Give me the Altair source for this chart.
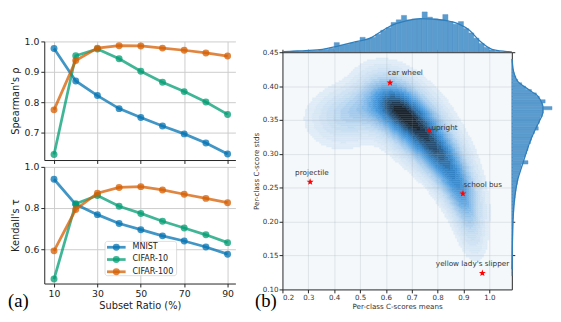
import altair as alt
import numpy as np
import pandas as pd

# ---------------- panel (a): rank correlation vs subset ratio ----------------
ratios = [10, 20, 30, 40, 50, 60, 70, 80, 90]
datasets = ["MNIST", "CIFAR-10", "CIFAR-100"]
colors = ["#0173b2", "#029e73", "#d55e00"]

spearman_mnist = [0.977, 0.870, 0.822, 0.779, 0.750, 0.722, 0.696, 0.666, 0.630]
spearman_cifar10 = [0.628, 0.953, 0.975, 0.943, 0.902, 0.866, 0.835, 0.801, 0.760]
spearman_cifar100 = [0.775, 0.937, 0.978, 0.986, 0.985, 0.978, 0.971, 0.962, 0.952]

kendall_mnist = [0.940, 0.818, 0.768, 0.725, 0.695, 0.665, 0.640, 0.611, 0.576]
kendall_cifar10 = [0.455, 0.821, 0.861, 0.809, 0.774, 0.736, 0.703, 0.670, 0.632]
kendall_cifar100 = [0.592, 0.793, 0.872, 0.900, 0.904, 0.888, 0.867, 0.847, 0.826]

# ---------------- panel (b): per-class C-score means vs stds ----------------
classes = ["car wheel", "upright", "projectile", "school bus", "yellow lady's slipper"]
class_mean = [0.616, 0.768, 0.307, 0.898, 0.973]
class_std = [0.405, 0.335, 0.2586, 0.2413, 0.124]
label_mean = [0.607, 0.776, 0.314, 0.900, 0.935]
label_std = [0.4186, 0.3376, 0.272, 0.2547, 0.1376]
label_align = ["left", "left", "center", "left", "center"]

# density surface: components along the ridge
kde_cx = [0.632, 0.716, 0.795, 0.867, 0.905, 0.928, 0.50, 0.424]
kde_cy = [0.373, 0.343, 0.305, 0.262, 0.226, 0.187, 0.365, 0.342]
kde_sx = [0.067, 0.067, 0.0617, 0.0512, 0.0387, 0.033, 0.0926, 0.068]
kde_sy = [0.0256, 0.0256, 0.0252, 0.0266, 0.025, 0.0256, 0.0217, 0.023]
kde_rho = [-0.28, -0.28, -0.40, -0.465, -0.405, -0.343, 0.2, 0.0]
kde_amp = [1.0, 0.95, 0.92, 0.70, 0.36, 0.15, 0.35, 0.07]

# top marginal: histogram of class means (bin centres, step 0.02) and its KDE
top_bin_center = [0.21, 0.23, 0.25, 0.27, 0.29, 0.31, 0.33, 0.35, 0.37, 0.39, 0.41,
                  0.43, 0.45, 0.47, 0.49, 0.51, 0.53, 0.55, 0.57, 0.59, 0.61, 0.63,
                  0.65, 0.67, 0.69, 0.71, 0.73, 0.75, 0.77, 0.79, 0.81, 0.83, 0.85,
                  0.87, 0.89, 0.91, 0.93, 0.95, 0.97, 0.99, 1.01, 1.03, 1.05]
top_bin_count = [0.5, 0.7, 1.0, 1.0, 1.2, 1.6, 2.0, 2.6, 3.3, 4.5, 11.0,
                 8.0, 9.0, 10.5, 12.0, 17.0, 15.0, 17.0, 20.5, 25.0, 28.0, 34.0,
                 37.0, 42.0, 37.0, 38.0, 38.0, 46.0, 40.0, 38.0, 37.0, 43.0, 35.0,
                 32.0, 35.0, 27.0, 22.0, 16.0, 10.0, 5.5, 2.5, 1.0, 0.3]
top_kde_x = [0.20, 0.228, 0.29, 0.355, 0.418, 0.481, 0.544, 0.594, 0.632, 0.683,
             0.733, 0.784, 0.834, 0.885, 0.923, 0.961, 1.01, 1.06, 1.087]
top_kde_h = [0.5, 1.0, 1.8, 3.3, 7.3, 11.7, 16.7, 26.0, 31.7, 36.0,
             38.3, 37.7, 36.0, 31.7, 25.0, 13.3, 3.3, 1.0, 0.5]

# right marginal: histogram of class stds (bin centres, step 0.005) and its KDE
right_bin_center = [round(0.1225 + 0.005 * i, 4) for i in range(64)]
right_bin_count = [0.2, 0.3, 0.3, 0.4, 0.4, 0.5, 0.5, 0.6, 0.6, 0.7, 0.8, 0.9, 1.0,
                   1.0, 1.1, 1.2, 1.3, 1.6, 1.8, 2.0, 2.2, 2.5, 3.0, 3.4, 3.9, 4.3,
                   4.9, 5.6, 6.3, 7.0, 8.0, 8.8, 9.5, 16.5, 12.0, 13.5, 15.0, 16.5,
                   17.0, 19.0, 20.0, 21.0, 23.0, 27.0, 26.0, 28.0, 29.0, 31.0, 32.0,
                   41.0, 31.0, 34.0, 28.0, 25.0, 20.0, 14.0, 10.0, 6.0, 4.0, 2.5,
                   1.5, 1.0, 0.6, 0.3]
right_kde_y = [0.13, 0.17, 0.201, 0.226, 0.255, 0.276, 0.288, 0.303, 0.317, 0.334,
               0.349, 0.361, 0.370, 0.377, 0.385, 0.391, 0.397, 0.403, 0.409,
               0.418, 0.428, 0.44]
right_kde_w = [0.2, 0.6, 1.2, 2.3, 5.0, 9.0, 11.7, 15.0, 18.3, 23.3,
               28.3, 31.7, 31.7, 30.0, 26.7, 21.0, 15.0, 9.0, 5.0,
               2.5, 1.0, 0.3]

FONT = "DejaVu Sans"
INK = "#222222"

# ======================= panel (a) =======================
def corr_panel(values, ytitle, ydomain, yticks, bottom):
    rows = []
    for name, vals in zip(datasets, values):
        for r, v in zip(ratios, vals):
            rows.append({"ratio": r, "value": v, "dataset": name})
    df = pd.DataFrame(rows)
    xkw = dict(values=[10, 30, 50, 70, 90], grid=True, gridColor="#cccccc",
               tickSize=3.5, labelFontSize=9.5, labelPadding=2, domainColor=INK,
               tickColor=INK, labelColor=INK)
    if bottom:
        xkw.update(labels=True, title="Subset Ratio (%)", titleFontSize=10,
                   titleFontWeight="normal", titlePadding=2, titleColor=INK)
    else:
        xkw.update(labels=False, title="")
    x = alt.X("ratio:Q", scale=alt.Scale(domain=[5.5, 93.6], nice=False, zero=False),
              axis=alt.Axis(**xkw))
    y = alt.Y("value:Q", scale=alt.Scale(domain=ydomain, nice=False, zero=False),
              axis=alt.Axis(values=yticks, format=".1f", title=ytitle, grid=True,
                            gridColor="#cccccc", tickSize=3.5, labelFontSize=9.5,
                            labelPadding=2, titleFontSize=10, titleFontWeight="normal",
                            titleColor=INK, domainColor=INK, tickColor=INK,
                            labelColor=INK))
    layers = []
    for name, col in zip(datasets, colors):
        b = alt.Chart(df).transform_filter(alt.datum.dataset == name).encode(x=x, y=y)
        layers.append(b.mark_line(color=col, strokeWidth=2.8, opacity=0.75))
        layers.append(b.mark_circle(color=col, size=50, opacity=0.75))
    return layers


top_a = alt.layer(*corr_panel([spearman_mnist, spearman_cifar10, spearman_cifar100],
                              "Spearman's ρ", [0.61, 1.0], [0.7, 0.8, 0.9, 1.0],
                              False)).properties(width=195, height=121)

bot_layers = corr_panel([kendall_mnist, kendall_cifar10, kendall_cifar100],
                        "Kendall's τ", [0.4333, 1.0], [0.6, 0.8, 1.0], True)
one = pd.DataFrame({"a": [0]})
bot_layers.append(alt.Chart(one).mark_rect(fill="white", stroke="#cfcfcf", strokeWidth=0.8,
                                           cornerRadius=2.5, opacity=0.85).encode(
    x=alt.value(62), x2=alt.value(135), y=alt.value(76), y2=alt.value(111)))
for i, (name, col) in enumerate(zip(datasets, colors)):
    yy = 82 + 12.5 * i
    d = pd.DataFrame({"name": [name]})
    bot_layers.append(alt.Chart(d).mark_rule(color=col, strokeWidth=2.8, opacity=0.75).encode(
        x=alt.value(64), x2=alt.value(83), y=alt.value(yy)))
    bot_layers.append(alt.Chart(d).mark_circle(color=col, size=50, opacity=0.75).encode(
        x=alt.value(73.5), y=alt.value(yy)))
    bot_layers.append(alt.Chart(d).mark_text(align="left", baseline="middle", fontSize=8.2,
                                             color=INK, font=FONT).encode(
        x=alt.value(90), y=alt.value(yy), text="name:N"))
bot_layers.append(alt.Chart(one).mark_text(align="left", baseline="alphabetic", fontSize=19,
                                           font="Liberation Serif", color="#000").encode(
    x=alt.value(-37), y=alt.value(143), text=alt.value("(a)")))
bot_a = alt.layer(*bot_layers).properties(width=195, height=119)

spacer = alt.Chart(one).mark_point(opacity=0).encode(
    x=alt.X("a:Q", axis=None), y=alt.Y("a:Q", axis=None)).properties(width=195, height=24)

left = alt.vconcat(spacer, top_a, bot_a, spacing=7, bounds="flush")

# ======================= panel (b) =======================
XD = [0.2, 1.087]
YD = [0.10, 0.45]
xscale = alt.Scale(domain=XD, nice=False, zero=False)
yscale = alt.Scale(domain=YD, nice=False, zero=False)
xticks = [0.2, 0.3, 0.4, 0.5, 0.6, 0.7, 0.8, 0.9, 1.0]
yticks = [0.10, 0.15, 0.20, 0.25, 0.30, 0.35, 0.40, 0.45]

# density grid
gx = np.linspace(XD[0], XD[1], 131)
gy = np.linspace(YD[0], YD[1], 126)
cx = (gx[:-1] + gx[1:]) / 2
cy = (gy[:-1] + gy[1:]) / 2
GX, GY = np.meshgrid(cx, cy)
D = np.zeros_like(GX)
for mx, my, sx, sy, r, a in zip(kde_cx, kde_cy, kde_sx, kde_sy, kde_rho, kde_amp):
    u = (GX - mx) / sx
    v = (GY - my) / sy
    D += a * np.exp(-0.5 * (u * u - 2 * r * u * v + v * v) / (1 - r * r))
D /= D.max()
NB = 20
thr = 0.02 + 0.98 * (np.arange(NB) / NB) ** 1.25
band = np.searchsorted(thr, D, side="right") - 1

anchors = [(0.0, "#e0ecf7"), (0.2, "#c2dbf1"), (0.4, "#8fc0ea"), (0.6, "#4c9de0"),
           (0.75, "#3380c2"), (0.87, "#2b5a82"), (1.0, "#1c2631")]


def h2r(h):
    return np.array([int(h[i:i + 2], 16) for i in (1, 3, 5)], float)


def ramp(t):
    for (t0, c0), (t1, c1) in zip(anchors[:-1], anchors[1:]):
        if t <= t1:
            f = (t - t0) / (t1 - t0)
            c = h2r(c0) * (1 - f) + h2r(c1) * f
            return "#" + "".join(f"{int(round(v)):02x}" for v in c)
    return anchors[-1][1]


band_colors = [ramp(k / (NB - 1)) for k in range(NB)]

cells = []
for j in range(len(cy)):
    row = band[j]
    i = 0
    n = len(row)
    while i < n:
        k = row[i]
        s = i
        while i < n and row[i] == k:
            i += 1
        if k >= 0:
            cells.append({"x0": round(gx[s], 5), "x1": round(gx[i], 5),
                          "y0": round(gy[j], 5), "y1": round(gy[j + 1], 5), "band": int(k)})
cells_df = pd.DataFrame(cells)

axis_b = dict(labelFontSize=7.2, titleFontSize=7.3, titleFontWeight="normal",
              tickSize=3.5, labelPadding=1, titlePadding=2, domain=False,
              grid=True, gridColor="#8c99a6", gridOpacity=0.22, zindex=1,
              tickColor=INK, labelColor="#333", titleColor="#333", labelOverlap=False,
              tickCount=10)
ax_x = alt.Axis(values=xticks, format=".1f", title="Per-class C-scores means", **axis_b)
ax_y = alt.Axis(values=yticks, format=".2f", title="Per-class C-score stds", **axis_b)

band_scale = alt.Scale(domain=list(range(NB)), range=band_colors)
kde = alt.Chart(cells_df).mark_rect(strokeWidth=0.4).encode(
    x=alt.X("x0:Q", scale=xscale, axis=ax_x), x2="x1:Q",
    y=alt.Y("y0:Q", scale=yscale, axis=ax_y), y2="y1:Q",
    fill=alt.Fill("band:O", scale=band_scale, legend=None),
    stroke=alt.Stroke("band:O", scale=band_scale, legend=None))

ang = -np.pi / 2 + np.arange(10) * np.pi / 5
rad = np.where(np.arange(10) % 2 == 0, 1.0, 0.42)
star_path = "M" + " L".join(f"{r * np.cos(a):.3f},{r * np.sin(a):.3f}"
                            for r, a in zip(rad, ang)) + " Z"

pts_df = pd.DataFrame({"name": classes, "mean": class_mean, "std": class_std,
                       "lx": label_mean, "ly": label_std, "al": label_align})
stars = alt.Chart(pts_df).mark_point(shape=star_path, filled=True, size=55,
                                     color="#ff0000", opacity=1).encode(
    x=alt.X("mean:Q", scale=xscale, axis=ax_x), y=alt.Y("std:Q", scale=yscale, axis=ax_y))
lab_left = alt.Chart(pts_df).transform_filter(alt.datum.al == "left").mark_text(
    align="left", baseline="middle", fontSize=7.4, color="#333", font=FONT).encode(
    x=alt.X("lx:Q", scale=xscale, axis=ax_x), y=alt.Y("ly:Q", scale=yscale, axis=ax_y),
    text="name:N")
lab_center = alt.Chart(pts_df).transform_filter(alt.datum.al == "center").mark_text(
    align="center", baseline="middle", fontSize=7.4, color="#333", font=FONT).encode(
    x=alt.X("lx:Q", scale=xscale, axis=ax_x), y=alt.Y("ly:Q", scale=yscale, axis=ax_y),
    text="name:N")
btxt = alt.Chart(one).mark_text(align="left", baseline="alphabetic", fontSize=19,
                                font="Liberation Serif", color="#000").encode(
    x=alt.value(-28), y=alt.value(260), text=alt.value("(b)"))

main = alt.layer(kde, stars, lab_left, lab_center, btxt).properties(
    width=234, height=242,
    view=alt.ViewBackground(fill="#f4f8fb", stroke=INK, strokeWidth=1))

# top marginal
HIST_FILL = "#5b9ccf"
HIST_EDGE = "#4a8cc3"
LINE = "#2f7ebc"
tb = pd.DataFrame({"x0": [round(c - 0.01, 4) for c in top_bin_center],
                   "x1": [round(c + 0.01, 4) for c in top_bin_center],
                   "count": top_bin_count})
tk = pd.DataFrame({"x": top_kde_x, "h": top_kde_h})
top_y = alt.Scale(domain=[0, 47], nice=False, zero=True)
ax_top = alt.Axis(values=xticks, labels=False, domain=False, grid=False,
                  tickSize=3, offset=-3, title="", tickColor=INK)
top_bars = alt.Chart(tb).mark_rect(fill=HIST_FILL, stroke=HIST_EDGE, strokeWidth=0.4).encode(
    x=alt.X("x0:Q", scale=xscale, axis=ax_top), x2="x1:Q",
    y=alt.Y("count:Q", scale=top_y, axis=None), y2=alt.datum(0))
top_line = alt.Chart(tk).mark_line(color=LINE, strokeWidth=1.3, interpolate="monotone").encode(
    x=alt.X("x:Q", scale=xscale, axis=ax_top), y=alt.Y("h:Q", scale=top_y, axis=None))
top_hist = alt.layer(top_bars, top_line).properties(width=234, height=42)

# right marginal
rb = pd.DataFrame({"y0": [round(c - 0.0025, 5) for c in right_bin_center],
                   "y1": [round(c + 0.0025, 5) for c in right_bin_center],
                   "count": right_bin_count})
rk = pd.DataFrame({"y": right_kde_y, "w": right_kde_w})
right_x = alt.Scale(domain=[0, 41], nice=False, zero=True)
ax_right = alt.Axis(values=[0.15, 0.20, 0.25, 0.30, 0.35, 0.40, 0.45], labels=False,
                    domain=False, grid=False, tickSize=3, offset=-3, title="",
                    tickColor=INK)
r_bars = alt.Chart(rb).mark_rect(fill=HIST_FILL, stroke=HIST_EDGE, strokeWidth=0.4).encode(
    y=alt.Y("y0:Q", scale=yscale, axis=ax_right), y2="y1:Q",
    x=alt.X("count:Q", scale=right_x, axis=None), x2=alt.datum(0))
r_line = alt.Chart(rk).mark_line(color=LINE, strokeWidth=1.3, interpolate="monotone").encode(
    y=alt.Y("y:Q", scale=yscale, axis=ax_right), x=alt.X("w:Q", scale=right_x, axis=None),
    order="y:Q")
right_hist = alt.layer(r_bars, r_line).properties(width=41, height=242)

right = alt.vconcat(top_hist, alt.hconcat(main, right_hist, spacing=0, bounds="flush"),
                    spacing=0, bounds="flush")

chart = alt.hconcat(left, right, spacing=16, bounds="full").properties(
    padding=0
).configure(font=FONT).configure_view(stroke=None).configure_axis(
    labelFont=FONT, titleFont=FONT)

chart.save("out.html", embed_options={"renderer": "svg", "actions": False})
